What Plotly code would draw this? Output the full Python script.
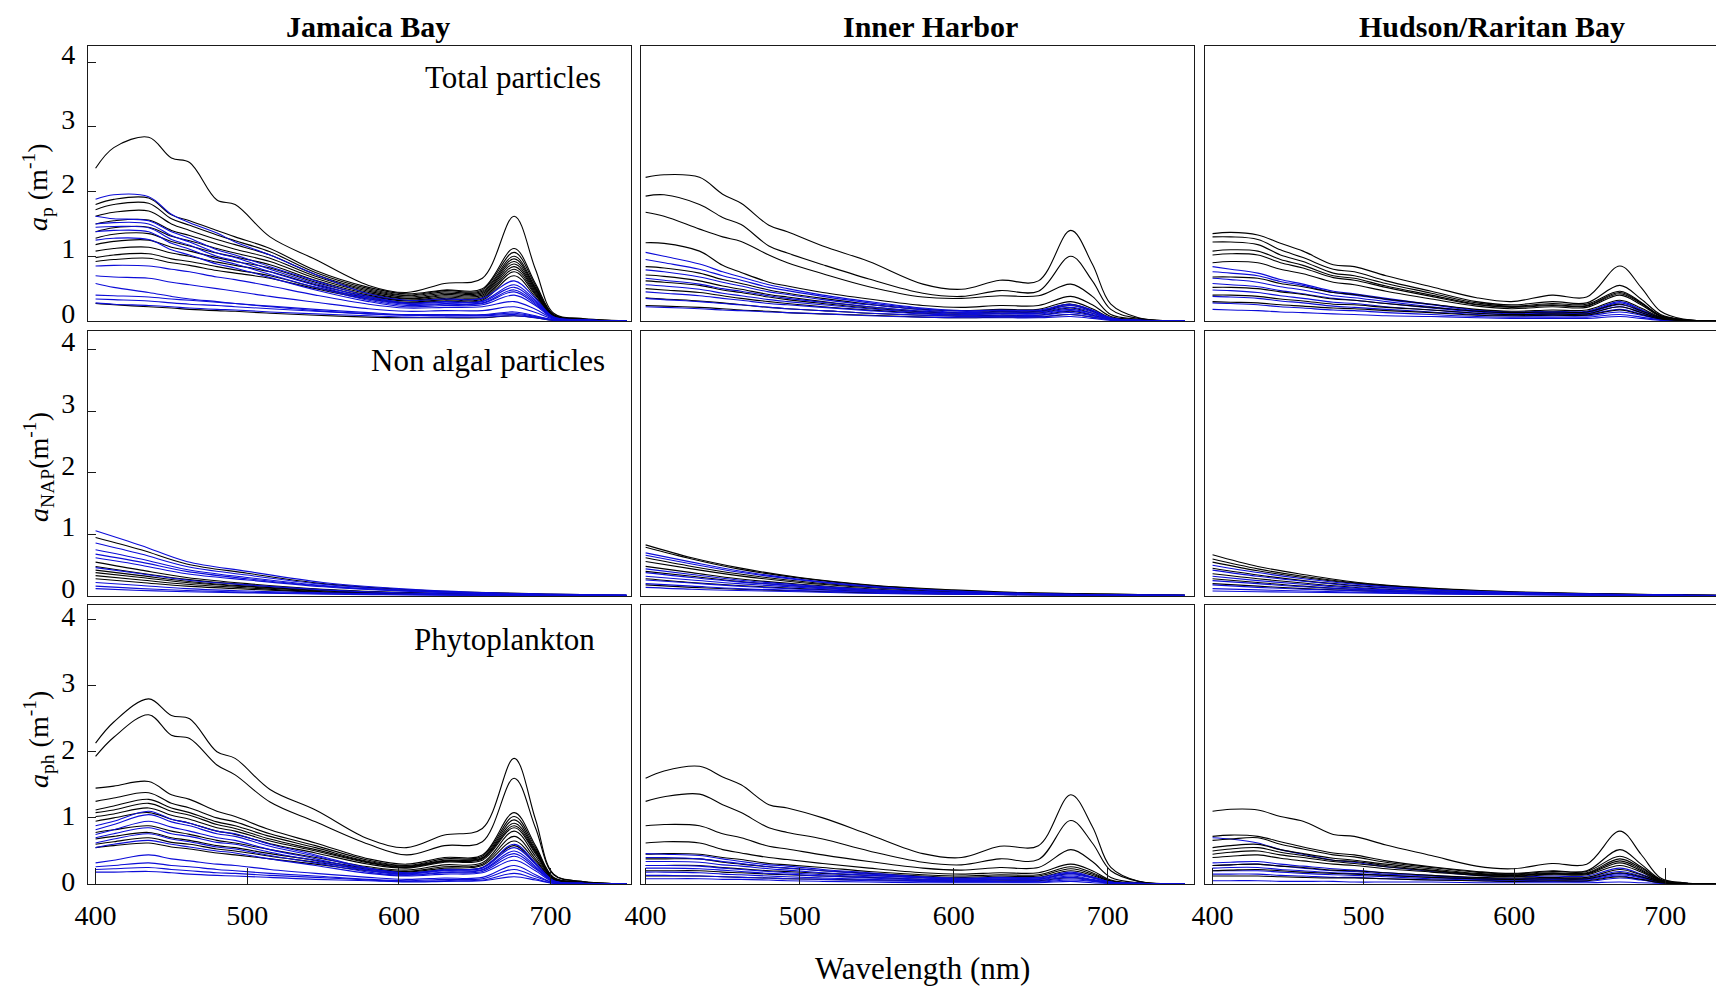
import plotly.graph_objects as go

# ---------------- wavelength grids (nm) ----------------
WL_A = [400, 412, 435, 450, 462, 480, 492, 515, 545, 580, 605, 630, 655, 676, 690, 702, 720, 750]
WL_B = [400, 412, 430, 445, 460, 480, 494, 515, 545, 575, 598, 625, 648, 670, 684, 697, 712, 750]
WL_N = [400, 430, 460, 500, 550, 600, 650, 700, 750]

COLUMN_TITLES = ["Jamaica Bay", "Inner Harbor", "Hudson/Raritan Bay"]
PANEL_LABELS = ["Total particles", "Non algal particles", "Phytoplankton"]
Y_TITLES = ["<i>a</i><sub>p</sub> (m<sup>-1</sup>)",
            "<i>a</i><sub>NAP</sub>(m<sup>-1</sup>)",
            "<i>a</i><sub>ph</sub> (m<sup>-1</sup>)"]
X_TITLE = "Wavelength (nm)"
X_TICKS = [400, 500, 600, 700]
Y_TICKS = [0, 1, 2, 3, 4]

# ---------------- Jamaica Bay : total particles ----------------
JB_AP_BLACK = [
    [2.36, 2.68, 2.84, 2.52, 2.45, 1.87, 1.80, 1.30, 0.95, 0.55, 0.44, 0.58, 0.66, 1.62, 0.80, 0.12, 0.04, 0.0],
    [1.80, 1.88, 1.90, 1.64, 1.55, 1.40, 1.30, 1.12, 0.78, 0.52, 0.42, 0.48, 0.50, 1.12, 0.58, 0.10, 0.03, 0.0],
    [1.72, 1.80, 1.82, 1.58, 1.48, 1.33, 1.24, 1.07, 0.75, 0.50, 0.40, 0.47, 0.48, 1.06, 0.55, 0.09, 0.03, 0.0],
    [1.62, 1.68, 1.70, 1.50, 1.40, 1.26, 1.18, 1.02, 0.72, 0.48, 0.39, 0.45, 0.46, 1.00, 0.52, 0.09, 0.03, 0.0],
    [1.50, 1.55, 1.56, 1.40, 1.32, 1.19, 1.11, 0.97, 0.69, 0.46, 0.37, 0.43, 0.44, 0.96, 0.50, 0.08, 0.02, 0.0],
    [1.38, 1.44, 1.45, 1.31, 1.24, 1.12, 1.05, 0.92, 0.66, 0.44, 0.35, 0.41, 0.42, 0.92, 0.48, 0.08, 0.02, 0.0],
    [1.28, 1.34, 1.35, 1.23, 1.16, 1.05, 0.99, 0.87, 0.63, 0.42, 0.34, 0.39, 0.40, 0.88, 0.46, 0.08, 0.02, 0.0],
    [1.18, 1.23, 1.25, 1.14, 1.08, 0.98, 0.92, 0.82, 0.60, 0.40, 0.32, 0.37, 0.38, 0.84, 0.44, 0.07, 0.02, 0.0],
    [1.08, 1.12, 1.14, 1.05, 1.00, 0.91, 0.86, 0.76, 0.56, 0.38, 0.31, 0.35, 0.36, 0.80, 0.42, 0.07, 0.02, 0.0],
    [0.98, 1.02, 1.04, 0.96, 0.92, 0.84, 0.79, 0.70, 0.52, 0.36, 0.29, 0.33, 0.34, 0.76, 0.40, 0.07, 0.02, 0.0],
    [0.92, 0.95, 0.97, 0.90, 0.86, 0.78, 0.74, 0.66, 0.50, 0.34, 0.28, 0.31, 0.32, 0.70, 0.37, 0.06, 0.02, 0.0],
    [0.27, 0.25, 0.22, 0.20, 0.18, 0.16, 0.15, 0.12, 0.09, 0.06, 0.05, 0.05, 0.05, 0.08, 0.05, 0.01, 0.0, 0.0],
]
JB_AP_BLUE = [
    [1.88, 1.95, 1.92, 1.65, 1.52, 1.36, 1.22, 1.02, 0.72, 0.42, 0.32, 0.34, 0.35, 0.62, 0.35, 0.06, 0.02, 0.0],
    [1.62, 1.58, 1.55, 1.38, 1.28, 1.10, 1.02, 0.84, 0.62, 0.38, 0.28, 0.30, 0.31, 0.56, 0.32, 0.06, 0.02, 0.0],
    [1.50, 1.52, 1.50, 1.32, 1.22, 1.05, 0.98, 0.80, 0.58, 0.36, 0.27, 0.29, 0.30, 0.52, 0.30, 0.05, 0.02, 0.0],
    [1.45, 1.46, 1.44, 1.26, 1.17, 1.00, 0.93, 0.76, 0.55, 0.34, 0.26, 0.27, 0.28, 0.48, 0.28, 0.05, 0.02, 0.0],
    [1.38, 1.40, 1.38, 1.20, 1.11, 0.95, 0.88, 0.72, 0.52, 0.32, 0.24, 0.26, 0.27, 0.45, 0.26, 0.05, 0.02, 0.0],
    [1.25, 1.28, 1.26, 1.10, 1.02, 0.88, 0.82, 0.67, 0.48, 0.30, 0.22, 0.24, 0.25, 0.40, 0.24, 0.04, 0.01, 0.0],
    [0.85, 0.86, 0.85, 0.80, 0.76, 0.68, 0.64, 0.54, 0.40, 0.26, 0.20, 0.21, 0.22, 0.30, 0.18, 0.04, 0.01, 0.0],
    [0.70, 0.68, 0.66, 0.60, 0.56, 0.50, 0.46, 0.38, 0.29, 0.19, 0.15, 0.16, 0.16, 0.22, 0.13, 0.03, 0.01, 0.0],
    [0.58, 0.52, 0.44, 0.38, 0.34, 0.30, 0.27, 0.22, 0.16, 0.11, 0.09, 0.08, 0.08, 0.10, 0.06, 0.02, 0.01, 0.0],
    [0.40, 0.39, 0.37, 0.34, 0.32, 0.29, 0.27, 0.23, 0.18, 0.13, 0.10, 0.10, 0.10, 0.14, 0.08, 0.02, 0.01, 0.0],
    [0.34, 0.33, 0.31, 0.28, 0.26, 0.24, 0.22, 0.19, 0.15, 0.11, 0.09, 0.09, 0.09, 0.12, 0.07, 0.02, 0.01, 0.0],
    [0.28, 0.26, 0.24, 0.22, 0.20, 0.18, 0.17, 0.14, 0.11, 0.08, 0.06, 0.06, 0.06, 0.08, 0.05, 0.01, 0.0, 0.0],
]

# ---------------- Jamaica Bay : non algal particles ----------------
JB_NAP_BLACK = [
    [0.95, 0.75, 0.52, 0.37, 0.20, 0.11, 0.06, 0.03, 0.01],
    [0.55, 0.42, 0.30, 0.20, 0.11, 0.06, 0.03, 0.02, 0.01],
    [0.48, 0.37, 0.27, 0.18, 0.10, 0.05, 0.03, 0.01, 0.0],
    [0.42, 0.33, 0.24, 0.16, 0.09, 0.05, 0.03, 0.01, 0.0],
    [0.38, 0.30, 0.22, 0.15, 0.08, 0.04, 0.02, 0.01, 0.0],
    [0.33, 0.26, 0.19, 0.13, 0.07, 0.04, 0.02, 0.01, 0.0],
    [0.28, 0.22, 0.16, 0.11, 0.06, 0.03, 0.02, 0.01, 0.0],
]
JB_NAP_BLUE = [
    [1.06, 0.82, 0.56, 0.40, 0.22, 0.12, 0.06, 0.03, 0.01],
    [0.86, 0.68, 0.48, 0.34, 0.19, 0.10, 0.05, 0.02, 0.01],
    [0.75, 0.60, 0.43, 0.30, 0.17, 0.09, 0.05, 0.02, 0.01],
    [0.68, 0.55, 0.40, 0.28, 0.16, 0.09, 0.05, 0.02, 0.01],
    [0.62, 0.50, 0.36, 0.26, 0.15, 0.08, 0.04, 0.02, 0.01],
    [0.46, 0.36, 0.26, 0.18, 0.10, 0.05, 0.03, 0.01, 0.0],
    [0.22, 0.17, 0.12, 0.08, 0.05, 0.03, 0.02, 0.01, 0.0],
    [0.16, 0.12, 0.09, 0.06, 0.04, 0.02, 0.01, 0.01, 0.0],
    [0.12, 0.09, 0.07, 0.05, 0.03, 0.02, 0.01, 0.0, 0.0],
]

# ---------------- Jamaica Bay : phytoplankton ----------------
JB_PH_BLACK = [
    [2.13, 2.45, 2.80, 2.55, 2.50, 2.00, 1.90, 1.43, 1.12, 0.68, 0.55, 0.74, 0.84, 1.90, 0.98, 0.15, 0.04, 0.0],
    [1.93, 2.22, 2.56, 2.25, 2.20, 1.80, 1.65, 1.24, 0.94, 0.60, 0.44, 0.58, 0.64, 1.60, 0.85, 0.14, 0.04, 0.0],
    [1.45, 1.48, 1.55, 1.35, 1.28, 1.10, 1.02, 0.82, 0.62, 0.38, 0.30, 0.40, 0.44, 1.08, 0.58, 0.10, 0.03, 0.0],
    [1.25, 1.30, 1.38, 1.22, 1.15, 1.00, 0.94, 0.76, 0.58, 0.36, 0.28, 0.38, 0.42, 1.02, 0.55, 0.09, 0.03, 0.0],
    [1.12, 1.18, 1.28, 1.15, 1.08, 0.94, 0.88, 0.72, 0.55, 0.34, 0.27, 0.36, 0.40, 0.97, 0.52, 0.09, 0.03, 0.0],
    [1.08, 1.12, 1.22, 1.10, 1.04, 0.90, 0.84, 0.68, 0.52, 0.33, 0.26, 0.35, 0.39, 0.92, 0.50, 0.08, 0.02, 0.0],
    [1.02, 1.06, 1.15, 1.04, 0.98, 0.85, 0.80, 0.65, 0.50, 0.32, 0.25, 0.34, 0.38, 0.88, 0.48, 0.08, 0.02, 0.0],
    [0.95, 1.00, 1.08, 0.98, 0.92, 0.80, 0.75, 0.61, 0.47, 0.30, 0.24, 0.33, 0.36, 0.85, 0.46, 0.08, 0.02, 0.0],
    [0.78, 0.82, 0.88, 0.80, 0.75, 0.66, 0.62, 0.52, 0.40, 0.26, 0.21, 0.29, 0.32, 0.80, 0.42, 0.07, 0.02, 0.0],
    [0.68, 0.72, 0.78, 0.70, 0.66, 0.58, 0.55, 0.46, 0.36, 0.24, 0.19, 0.26, 0.30, 0.72, 0.38, 0.06, 0.02, 0.0],
    [0.60, 0.64, 0.70, 0.63, 0.60, 0.53, 0.50, 0.42, 0.33, 0.22, 0.18, 0.24, 0.28, 0.65, 0.35, 0.06, 0.02, 0.0],
    [0.55, 0.58, 0.62, 0.56, 0.53, 0.47, 0.44, 0.38, 0.30, 0.20, 0.16, 0.22, 0.25, 0.58, 0.31, 0.05, 0.01, 0.0],
]
JB_PH_BLUE = [
    [0.88, 0.95, 1.10, 0.98, 0.92, 0.80, 0.76, 0.60, 0.44, 0.24, 0.17, 0.22, 0.25, 0.60, 0.32, 0.05, 0.01, 0.0],
    [0.82, 0.90, 1.05, 0.94, 0.88, 0.76, 0.72, 0.57, 0.42, 0.23, 0.16, 0.21, 0.24, 0.55, 0.30, 0.05, 0.01, 0.0],
    [0.75, 0.82, 0.95, 0.86, 0.80, 0.70, 0.66, 0.52, 0.38, 0.21, 0.15, 0.20, 0.22, 0.50, 0.27, 0.04, 0.01, 0.0],
    [0.70, 0.76, 0.85, 0.76, 0.72, 0.63, 0.60, 0.48, 0.35, 0.20, 0.14, 0.18, 0.21, 0.46, 0.25, 0.04, 0.01, 0.0],
    [0.62, 0.68, 0.76, 0.68, 0.64, 0.56, 0.53, 0.43, 0.32, 0.18, 0.13, 0.17, 0.19, 0.42, 0.23, 0.04, 0.01, 0.0],
    [0.55, 0.60, 0.66, 0.60, 0.56, 0.50, 0.47, 0.38, 0.28, 0.16, 0.12, 0.15, 0.17, 0.36, 0.20, 0.03, 0.01, 0.0],
    [0.32, 0.36, 0.44, 0.38, 0.35, 0.30, 0.28, 0.22, 0.16, 0.10, 0.07, 0.09, 0.10, 0.28, 0.14, 0.02, 0.01, 0.0],
    [0.26, 0.28, 0.32, 0.28, 0.26, 0.22, 0.20, 0.16, 0.12, 0.07, 0.05, 0.07, 0.08, 0.22, 0.11, 0.02, 0.0, 0.0],
    [0.22, 0.23, 0.25, 0.22, 0.20, 0.17, 0.16, 0.13, 0.10, 0.06, 0.04, 0.05, 0.06, 0.16, 0.08, 0.01, 0.0, 0.0],
    [0.18, 0.18, 0.19, 0.17, 0.15, 0.13, 0.12, 0.10, 0.07, 0.05, 0.03, 0.04, 0.05, 0.11, 0.06, 0.01, 0.0, 0.0],
]

# ---------------- Inner Harbor : total particles ----------------
IH_AP_BLACK = [
    [2.22, 2.26, 2.22, 1.96, 1.82, 1.48, 1.38, 1.16, 0.92, 0.57, 0.49, 0.63, 0.62, 1.40, 0.88, 0.26, 0.05, 0.0],
    [1.93, 1.95, 1.80, 1.60, 1.49, 1.16, 1.05, 0.87, 0.65, 0.43, 0.38, 0.47, 0.46, 1.00, 0.62, 0.18, 0.04, 0.0],
    [1.68, 1.62, 1.42, 1.30, 1.23, 1.02, 0.90, 0.73, 0.53, 0.37, 0.35, 0.39, 0.39, 0.57, 0.38, 0.10, 0.03, 0.0],
    [1.21, 1.20, 1.08, 0.86, 0.75, 0.60, 0.54, 0.44, 0.34, 0.24, 0.21, 0.24, 0.24, 0.38, 0.25, 0.07, 0.02, 0.0],
    [0.84, 0.82, 0.74, 0.64, 0.58, 0.48, 0.43, 0.35, 0.26, 0.18, 0.16, 0.18, 0.18, 0.30, 0.19, 0.05, 0.02, 0.0],
    [0.71, 0.69, 0.62, 0.54, 0.49, 0.41, 0.37, 0.30, 0.22, 0.15, 0.13, 0.15, 0.15, 0.26, 0.16, 0.05, 0.01, 0.0],
    [0.62, 0.60, 0.55, 0.48, 0.44, 0.37, 0.33, 0.27, 0.20, 0.14, 0.12, 0.14, 0.14, 0.24, 0.15, 0.04, 0.01, 0.0],
    [0.50, 0.48, 0.44, 0.39, 0.35, 0.30, 0.27, 0.22, 0.17, 0.12, 0.10, 0.12, 0.12, 0.20, 0.12, 0.04, 0.01, 0.0],
    [0.36, 0.34, 0.31, 0.28, 0.25, 0.21, 0.19, 0.16, 0.12, 0.09, 0.08, 0.09, 0.09, 0.15, 0.09, 0.03, 0.01, 0.0],
    [0.24, 0.23, 0.21, 0.19, 0.17, 0.15, 0.13, 0.11, 0.09, 0.06, 0.05, 0.06, 0.06, 0.10, 0.06, 0.02, 0.0, 0.0],
]
IH_AP_BLUE = [
    [1.06, 1.00, 0.88, 0.76, 0.68, 0.56, 0.50, 0.40, 0.30, 0.20, 0.16, 0.17, 0.17, 0.26, 0.17, 0.05, 0.01, 0.0],
    [0.95, 0.90, 0.80, 0.70, 0.63, 0.52, 0.47, 0.38, 0.28, 0.19, 0.15, 0.16, 0.16, 0.24, 0.16, 0.04, 0.01, 0.0],
    [0.79, 0.76, 0.68, 0.60, 0.54, 0.45, 0.41, 0.33, 0.25, 0.17, 0.13, 0.14, 0.14, 0.21, 0.14, 0.04, 0.01, 0.0],
    [0.66, 0.63, 0.57, 0.50, 0.46, 0.39, 0.35, 0.29, 0.22, 0.15, 0.12, 0.12, 0.12, 0.18, 0.12, 0.03, 0.01, 0.0],
    [0.56, 0.54, 0.49, 0.43, 0.39, 0.33, 0.30, 0.25, 0.19, 0.13, 0.10, 0.11, 0.11, 0.16, 0.10, 0.03, 0.01, 0.0],
    [0.45, 0.43, 0.39, 0.35, 0.32, 0.27, 0.25, 0.21, 0.16, 0.11, 0.09, 0.09, 0.09, 0.13, 0.08, 0.02, 0.01, 0.0],
    [0.35, 0.33, 0.30, 0.27, 0.25, 0.21, 0.19, 0.16, 0.12, 0.09, 0.07, 0.07, 0.07, 0.10, 0.06, 0.02, 0.0, 0.0],
    [0.22, 0.21, 0.19, 0.17, 0.16, 0.14, 0.13, 0.11, 0.08, 0.06, 0.05, 0.05, 0.05, 0.07, 0.04, 0.01, 0.0, 0.0],
]

# ---------------- Inner Harbor : non algal particles ----------------
IH_NAP_BLACK = [
    [0.83, 0.62, 0.46, 0.30, 0.17, 0.10, 0.05, 0.03, 0.01],
    [0.79, 0.60, 0.44, 0.29, 0.16, 0.09, 0.05, 0.03, 0.01],
    [0.62, 0.48, 0.36, 0.24, 0.14, 0.08, 0.04, 0.02, 0.01],
    [0.56, 0.44, 0.33, 0.22, 0.13, 0.07, 0.04, 0.02, 0.01],
    [0.48, 0.38, 0.28, 0.19, 0.11, 0.06, 0.03, 0.02, 0.0],
    [0.40, 0.32, 0.24, 0.16, 0.09, 0.05, 0.03, 0.01, 0.0],
    [0.28, 0.22, 0.17, 0.12, 0.07, 0.04, 0.02, 0.01, 0.0],
    [0.18, 0.14, 0.11, 0.08, 0.05, 0.03, 0.02, 0.01, 0.0],
]
IH_NAP_BLUE = [
    [0.70, 0.55, 0.41, 0.27, 0.15, 0.08, 0.04, 0.02, 0.01],
    [0.66, 0.52, 0.39, 0.26, 0.14, 0.08, 0.04, 0.02, 0.01],
    [0.44, 0.35, 0.26, 0.18, 0.10, 0.06, 0.03, 0.02, 0.01],
    [0.38, 0.30, 0.23, 0.16, 0.09, 0.05, 0.03, 0.01, 0.0],
    [0.32, 0.26, 0.20, 0.14, 0.08, 0.05, 0.03, 0.01, 0.0],
    [0.26, 0.21, 0.16, 0.11, 0.07, 0.04, 0.02, 0.01, 0.0],
    [0.20, 0.16, 0.12, 0.09, 0.06, 0.03, 0.02, 0.01, 0.0],
    [0.14, 0.11, 0.09, 0.07, 0.04, 0.03, 0.02, 0.01, 0.0],
]

# ---------------- Inner Harbor : phytoplankton ----------------
IH_PH_BLACK = [
    [1.60, 1.71, 1.78, 1.62, 1.50, 1.20, 1.15, 1.00, 0.75, 0.46, 0.40, 0.57, 0.58, 1.35, 0.87, 0.25, 0.04, 0.0],
    [1.25, 1.32, 1.36, 1.20, 1.08, 0.85, 0.78, 0.68, 0.50, 0.33, 0.29, 0.38, 0.37, 0.96, 0.62, 0.20, 0.04, 0.0],
    [0.88, 0.90, 0.88, 0.76, 0.70, 0.57, 0.53, 0.44, 0.34, 0.24, 0.21, 0.25, 0.25, 0.52, 0.34, 0.10, 0.02, 0.0],
    [0.62, 0.64, 0.62, 0.52, 0.47, 0.40, 0.37, 0.31, 0.24, 0.17, 0.15, 0.17, 0.17, 0.30, 0.20, 0.06, 0.01, 0.0],
    [0.45, 0.46, 0.45, 0.40, 0.37, 0.31, 0.29, 0.25, 0.19, 0.14, 0.12, 0.14, 0.14, 0.26, 0.17, 0.05, 0.01, 0.0],
    [0.38, 0.38, 0.38, 0.33, 0.30, 0.26, 0.24, 0.20, 0.16, 0.12, 0.10, 0.12, 0.12, 0.23, 0.15, 0.04, 0.01, 0.0],
    [0.28, 0.28, 0.28, 0.25, 0.23, 0.20, 0.19, 0.16, 0.13, 0.10, 0.08, 0.10, 0.10, 0.20, 0.13, 0.04, 0.01, 0.0],
    [0.20, 0.20, 0.20, 0.18, 0.17, 0.15, 0.14, 0.12, 0.10, 0.07, 0.06, 0.07, 0.07, 0.16, 0.10, 0.03, 0.01, 0.0],
    [0.12, 0.12, 0.12, 0.11, 0.10, 0.09, 0.08, 0.07, 0.06, 0.05, 0.04, 0.05, 0.05, 0.10, 0.06, 0.02, 0.0, 0.0],
]
IH_PH_BLUE = [
    [0.46, 0.45, 0.43, 0.38, 0.34, 0.29, 0.27, 0.22, 0.17, 0.11, 0.09, 0.10, 0.10, 0.18, 0.11, 0.03, 0.01, 0.0],
    [0.40, 0.40, 0.38, 0.34, 0.31, 0.26, 0.24, 0.20, 0.15, 0.10, 0.08, 0.09, 0.09, 0.16, 0.10, 0.03, 0.01, 0.0],
    [0.34, 0.34, 0.33, 0.29, 0.27, 0.23, 0.21, 0.17, 0.13, 0.09, 0.07, 0.08, 0.08, 0.14, 0.09, 0.03, 0.01, 0.0],
    [0.28, 0.28, 0.27, 0.24, 0.22, 0.19, 0.17, 0.14, 0.11, 0.07, 0.06, 0.07, 0.07, 0.12, 0.07, 0.02, 0.0, 0.0],
    [0.24, 0.24, 0.23, 0.21, 0.19, 0.16, 0.15, 0.12, 0.09, 0.06, 0.05, 0.06, 0.06, 0.10, 0.06, 0.02, 0.0, 0.0],
    [0.18, 0.18, 0.17, 0.15, 0.14, 0.12, 0.11, 0.09, 0.07, 0.05, 0.04, 0.04, 0.04, 0.08, 0.05, 0.01, 0.0, 0.0],
    [0.13, 0.13, 0.12, 0.11, 0.10, 0.09, 0.08, 0.07, 0.05, 0.04, 0.03, 0.03, 0.03, 0.06, 0.04, 0.01, 0.0, 0.0],
    [0.08, 0.08, 0.08, 0.07, 0.07, 0.06, 0.05, 0.04, 0.03, 0.02, 0.02, 0.02, 0.02, 0.04, 0.02, 0.01, 0.0, 0.0],
]

# ---------------- Hudson/Raritan Bay : total particles ----------------
HR_AP_BLACK = [
    [1.35, 1.37, 1.33, 1.20, 1.08, 0.87, 0.84, 0.70, 0.53, 0.36, 0.30, 0.40, 0.37, 0.85, 0.52, 0.15, 0.03, 0.0],
    [1.30, 1.30, 1.26, 1.10, 0.98, 0.80, 0.76, 0.62, 0.46, 0.30, 0.25, 0.30, 0.28, 0.55, 0.34, 0.10, 0.02, 0.0],
    [1.22, 1.22, 1.18, 1.02, 0.92, 0.74, 0.70, 0.58, 0.43, 0.28, 0.23, 0.27, 0.26, 0.46, 0.29, 0.08, 0.02, 0.0],
    [1.08, 1.10, 1.08, 0.95, 0.86, 0.70, 0.66, 0.54, 0.40, 0.26, 0.22, 0.25, 0.24, 0.44, 0.28, 0.08, 0.02, 0.0],
    [1.02, 1.04, 1.02, 0.90, 0.82, 0.67, 0.63, 0.52, 0.38, 0.25, 0.21, 0.24, 0.23, 0.42, 0.27, 0.08, 0.02, 0.0],
    [0.90, 0.92, 0.90, 0.80, 0.73, 0.60, 0.56, 0.46, 0.34, 0.23, 0.19, 0.22, 0.21, 0.40, 0.25, 0.07, 0.02, 0.0],
    [0.68, 0.68, 0.66, 0.58, 0.53, 0.44, 0.41, 0.34, 0.26, 0.18, 0.15, 0.17, 0.17, 0.32, 0.20, 0.06, 0.01, 0.0],
    [0.52, 0.52, 0.50, 0.45, 0.41, 0.34, 0.32, 0.27, 0.21, 0.15, 0.13, 0.14, 0.14, 0.26, 0.16, 0.05, 0.01, 0.0],
    [0.40, 0.40, 0.38, 0.34, 0.31, 0.26, 0.25, 0.21, 0.17, 0.12, 0.10, 0.11, 0.11, 0.22, 0.13, 0.04, 0.01, 0.0],
    [0.30, 0.29, 0.28, 0.25, 0.23, 0.20, 0.19, 0.16, 0.13, 0.09, 0.08, 0.09, 0.09, 0.17, 0.10, 0.03, 0.01, 0.0],
]
HR_AP_BLUE = [
    [0.84, 0.80, 0.74, 0.64, 0.57, 0.46, 0.42, 0.35, 0.26, 0.17, 0.14, 0.15, 0.15, 0.30, 0.18, 0.05, 0.01, 0.0],
    [0.76, 0.74, 0.70, 0.61, 0.55, 0.44, 0.40, 0.33, 0.25, 0.16, 0.13, 0.14, 0.14, 0.28, 0.17, 0.05, 0.01, 0.0],
    [0.66, 0.64, 0.60, 0.53, 0.48, 0.39, 0.36, 0.30, 0.22, 0.15, 0.12, 0.13, 0.13, 0.25, 0.15, 0.04, 0.01, 0.0],
    [0.58, 0.56, 0.53, 0.47, 0.42, 0.35, 0.32, 0.27, 0.20, 0.14, 0.11, 0.12, 0.12, 0.22, 0.13, 0.04, 0.01, 0.0],
    [0.48, 0.47, 0.44, 0.39, 0.35, 0.29, 0.27, 0.22, 0.17, 0.12, 0.10, 0.10, 0.10, 0.18, 0.11, 0.03, 0.01, 0.0],
    [0.38, 0.37, 0.35, 0.31, 0.28, 0.23, 0.21, 0.18, 0.14, 0.10, 0.08, 0.08, 0.08, 0.14, 0.09, 0.03, 0.01, 0.0],
    [0.28, 0.27, 0.25, 0.22, 0.20, 0.17, 0.16, 0.13, 0.10, 0.07, 0.06, 0.06, 0.06, 0.10, 0.06, 0.02, 0.0, 0.0],
    [0.18, 0.17, 0.16, 0.14, 0.13, 0.11, 0.10, 0.08, 0.07, 0.05, 0.04, 0.04, 0.04, 0.07, 0.04, 0.01, 0.0, 0.0],
]

# ---------------- Hudson/Raritan Bay : non algal particles ----------------
HR_NAP_BLACK = [
    [0.67, 0.48, 0.35, 0.21, 0.12, 0.07, 0.04, 0.02, 0.01],
    [0.60, 0.44, 0.32, 0.20, 0.11, 0.06, 0.04, 0.02, 0.01],
    [0.55, 0.41, 0.30, 0.19, 0.10, 0.06, 0.03, 0.02, 0.01],
    [0.45, 0.34, 0.25, 0.16, 0.09, 0.05, 0.03, 0.02, 0.0],
    [0.36, 0.28, 0.21, 0.13, 0.07, 0.04, 0.03, 0.01, 0.0],
    [0.28, 0.22, 0.16, 0.10, 0.06, 0.04, 0.02, 0.01, 0.0],
    [0.20, 0.16, 0.12, 0.08, 0.05, 0.03, 0.02, 0.01, 0.0],
]
HR_NAP_BLUE = [
    [0.50, 0.38, 0.28, 0.18, 0.10, 0.06, 0.03, 0.02, 0.01],
    [0.42, 0.32, 0.24, 0.15, 0.09, 0.05, 0.03, 0.01, 0.0],
    [0.32, 0.25, 0.19, 0.12, 0.07, 0.04, 0.02, 0.01, 0.0],
    [0.25, 0.20, 0.15, 0.10, 0.06, 0.04, 0.02, 0.01, 0.0],
    [0.18, 0.14, 0.11, 0.08, 0.05, 0.03, 0.02, 0.01, 0.0],
    [0.12, 0.10, 0.08, 0.06, 0.04, 0.03, 0.02, 0.01, 0.0],
    [0.08, 0.07, 0.06, 0.05, 0.03, 0.02, 0.01, 0.01, 0.0],
]

# ---------------- Hudson/Raritan Bay : phytoplankton ----------------
HR_PH_BLACK = [
    [1.10, 1.13, 1.12, 1.02, 0.95, 0.75, 0.72, 0.59, 0.43, 0.27, 0.23, 0.31, 0.30, 0.80, 0.45, 0.09, 0.02, 0.0],
    [0.72, 0.74, 0.72, 0.64, 0.56, 0.47, 0.44, 0.35, 0.26, 0.19, 0.16, 0.20, 0.20, 0.52, 0.30, 0.07, 0.01, 0.0],
    [0.66, 0.68, 0.70, 0.60, 0.53, 0.44, 0.41, 0.33, 0.25, 0.18, 0.15, 0.19, 0.19, 0.42, 0.26, 0.06, 0.01, 0.0],
    [0.55, 0.58, 0.60, 0.52, 0.46, 0.39, 0.36, 0.30, 0.23, 0.16, 0.14, 0.17, 0.17, 0.38, 0.24, 0.06, 0.01, 0.0],
    [0.50, 0.53, 0.55, 0.48, 0.43, 0.36, 0.34, 0.28, 0.21, 0.15, 0.13, 0.16, 0.16, 0.35, 0.22, 0.05, 0.01, 0.0],
    [0.45, 0.48, 0.50, 0.44, 0.40, 0.34, 0.31, 0.26, 0.20, 0.14, 0.12, 0.15, 0.15, 0.32, 0.20, 0.05, 0.01, 0.0],
    [0.40, 0.42, 0.44, 0.39, 0.35, 0.30, 0.28, 0.23, 0.18, 0.13, 0.11, 0.14, 0.14, 0.28, 0.18, 0.04, 0.01, 0.0],
    [0.28, 0.29, 0.30, 0.27, 0.25, 0.21, 0.20, 0.17, 0.13, 0.10, 0.09, 0.10, 0.10, 0.22, 0.14, 0.04, 0.01, 0.0],
    [0.20, 0.21, 0.22, 0.20, 0.18, 0.16, 0.15, 0.13, 0.10, 0.08, 0.07, 0.08, 0.08, 0.17, 0.11, 0.03, 0.0, 0.0],
    [0.12, 0.12, 0.12, 0.11, 0.10, 0.09, 0.09, 0.08, 0.06, 0.05, 0.04, 0.05, 0.05, 0.11, 0.07, 0.02, 0.0, 0.0],
]
HR_PH_BLUE = [
    [0.70, 0.68, 0.62, 0.52, 0.45, 0.36, 0.33, 0.26, 0.19, 0.13, 0.11, 0.12, 0.12, 0.24, 0.15, 0.04, 0.01, 0.0],
    [0.32, 0.33, 0.34, 0.30, 0.27, 0.23, 0.21, 0.17, 0.13, 0.09, 0.08, 0.09, 0.09, 0.19, 0.12, 0.03, 0.01, 0.0],
    [0.28, 0.29, 0.30, 0.27, 0.24, 0.20, 0.19, 0.15, 0.12, 0.08, 0.07, 0.08, 0.08, 0.16, 0.10, 0.03, 0.0, 0.0],
    [0.24, 0.25, 0.25, 0.22, 0.20, 0.17, 0.16, 0.13, 0.10, 0.07, 0.06, 0.07, 0.07, 0.14, 0.09, 0.02, 0.0, 0.0],
    [0.20, 0.20, 0.20, 0.18, 0.16, 0.14, 0.13, 0.11, 0.08, 0.06, 0.05, 0.06, 0.06, 0.12, 0.07, 0.02, 0.0, 0.0],
    [0.15, 0.15, 0.15, 0.13, 0.12, 0.10, 0.10, 0.08, 0.06, 0.05, 0.04, 0.04, 0.04, 0.09, 0.06, 0.02, 0.0, 0.0],
    [0.05, 0.05, 0.05, 0.04, 0.04, 0.04, 0.03, 0.03, 0.03, 0.02, 0.02, 0.02, 0.02, 0.03, 0.02, 0.01, 0.0, 0.0],
]

# (row, col, wavelengths, black spectra, blue spectra, blue drawn on top?)
PANELS = [
    (0, 0, WL_A, JB_AP_BLACK, JB_AP_BLUE, True),
    (0, 1, WL_A, IH_AP_BLACK, IH_AP_BLUE, True),
    (0, 2, WL_B, HR_AP_BLACK, HR_AP_BLUE, False),
    (1, 0, WL_N, JB_NAP_BLACK, JB_NAP_BLUE, True),
    (1, 1, WL_N, IH_NAP_BLACK, IH_NAP_BLUE, True),
    (1, 2, WL_N, HR_NAP_BLACK, HR_NAP_BLUE, True),
    (2, 0, WL_A, JB_PH_BLACK, JB_PH_BLUE, True),
    (2, 1, WL_A, IH_PH_BLACK, IH_PH_BLUE, True),
    (2, 2, WL_B, HR_PH_BLACK, HR_PH_BLUE, False),
]

# ---------------- layout geometry ----------------
# the page body has an 8 px margin, so the figure is made 8 px smaller and
# every target window position (in px) is shifted by that margin
OFF = 8
W, H = 1724 - OFF, 987 - OFF


def px(x):
    return (x - OFF) / W


def py(y):
    return 1 - (y - OFF) / H


X_DOMAINS = [[px(88), px(631)], [px(641), px(1194)], [px(1205), 1.0]]
Y_DOMAINS = [[py(321), py(46)], [py(596), py(331)], [py(884), py(605)]]
X_RANGES = [[395, 753], [397, 756], [395, 739]]
Y_RANGES = [[0, 4.25], [0, 4.3], [0, 4.22]]
Y_LABEL_SHIFT = [-8, -8, -3]

BLACK = "#000000"
BLUE = "#0c0cd8"
FONT = "Liberation Serif, Times New Roman, serif"
FRAME = "#1a1a1a"

fig = go.Figure()


def add_lines(xid, yid, wl, spectra, color):
    for s in spectra:
        fig.add_trace(go.Scatter(
            x=wl, y=s, mode="lines", xaxis=xid, yaxis=yid,
            line=dict(color=color, width=1.1, shape="spline", smoothing=1.0),
            showlegend=False, hoverinfo="skip"))


layout_axes = {}
for (r, c, wl, blacks, blues, blue_top) in PANELS:
    idx = r * 3 + c + 1
    xid = "x" if idx == 1 else f"x{idx}"
    yid = "y" if idx == 1 else f"y{idx}"
    if blue_top:
        add_lines(xid, yid, wl, blacks, BLACK)
        add_lines(xid, yid, wl, blues, BLUE)
    else:
        add_lines(xid, yid, wl, blues, BLUE)
        add_lines(xid, yid, wl, blacks, BLACK)

    xa = dict(domain=X_DOMAINS[c], range=X_RANGES[c], anchor=yid, automargin=False,
              showgrid=False, zeroline=False, showline=True, linecolor=FRAME,
              linewidth=1.4, mirror=True, fixedrange=True)
    if r == 2:
        xa.update(tickvals=X_TICKS, ticks="inside", ticklen=16, tickwidth=1.4,
                  tickcolor=FRAME, tickfont=dict(family=FONT, size=28, color="black"),
                  ticklabelstandoff=6)
    else:
        xa.update(showticklabels=False, ticks="")
    ya = dict(domain=Y_DOMAINS[r], range=Y_RANGES[r], anchor=xid, automargin=False,
              showgrid=False, zeroline=False, showline=True, linecolor=FRAME,
              linewidth=1.4, mirror=(c < 2), fixedrange=True)
    if c == 0:
        ya.update(tickvals=Y_TICKS, ticks="inside", ticklen=8, tickwidth=1.4,
                  tickcolor=FRAME, tickfont=dict(family=FONT, size=28, color="black"),
                  ticklabelstandoff=6, ticklabelshift=Y_LABEL_SHIFT[r])
    else:
        ya.update(showticklabels=False, ticks="")
    layout_axes["xaxis" if idx == 1 else f"xaxis{idx}"] = xa
    layout_axes["yaxis" if idx == 1 else f"yaxis{idx}"] = ya

annotations = []
TITLE_X = [368, 931, 1492]
for c, t in enumerate(COLUMN_TITLES):
    annotations.append(dict(text=f"<b>{t}</b>", x=px(TITLE_X[c]), y=py(27),
                            xref="paper", yref="paper", showarrow=False,
                            xanchor="center", yanchor="middle",
                            font=dict(family=FONT, size=30, color="black")))
LABEL_POS = [(603, 77), (607, 360), (597, 639)]
for (x, y), t in zip(LABEL_POS, PANEL_LABELS):
    annotations.append(dict(text=t, x=px(x), y=py(y), xref="paper", yref="paper",
                            showarrow=False, xanchor="right", yanchor="middle",
                            font=dict(family=FONT, size=31, color="black")))
YT_Y = [187, 467, 740]
for y, t in zip(YT_Y, Y_TITLES):
    annotations.append(dict(text=t, x=px(38), y=py(y), xref="paper", yref="paper",
                            showarrow=False, textangle=-90,
                            xanchor="center", yanchor="middle",
                            font=dict(family=FONT, size=28, color="black")))
annotations.append(dict(text=X_TITLE, x=px(922), y=py(968), xref="paper", yref="paper",
                        showarrow=False, xanchor="center", yanchor="middle",
                        font=dict(family=FONT, size=31, color="black")))

fig.update_layout(
    width=W, height=H,
    margin=dict(l=0, r=0, t=0, b=0, autoexpand=False),
    paper_bgcolor="white", plot_bgcolor="white",
    showlegend=False,
    annotations=annotations,
    **layout_axes,
)

fig.write_html("out.html", config={"displayModeBar": False})
